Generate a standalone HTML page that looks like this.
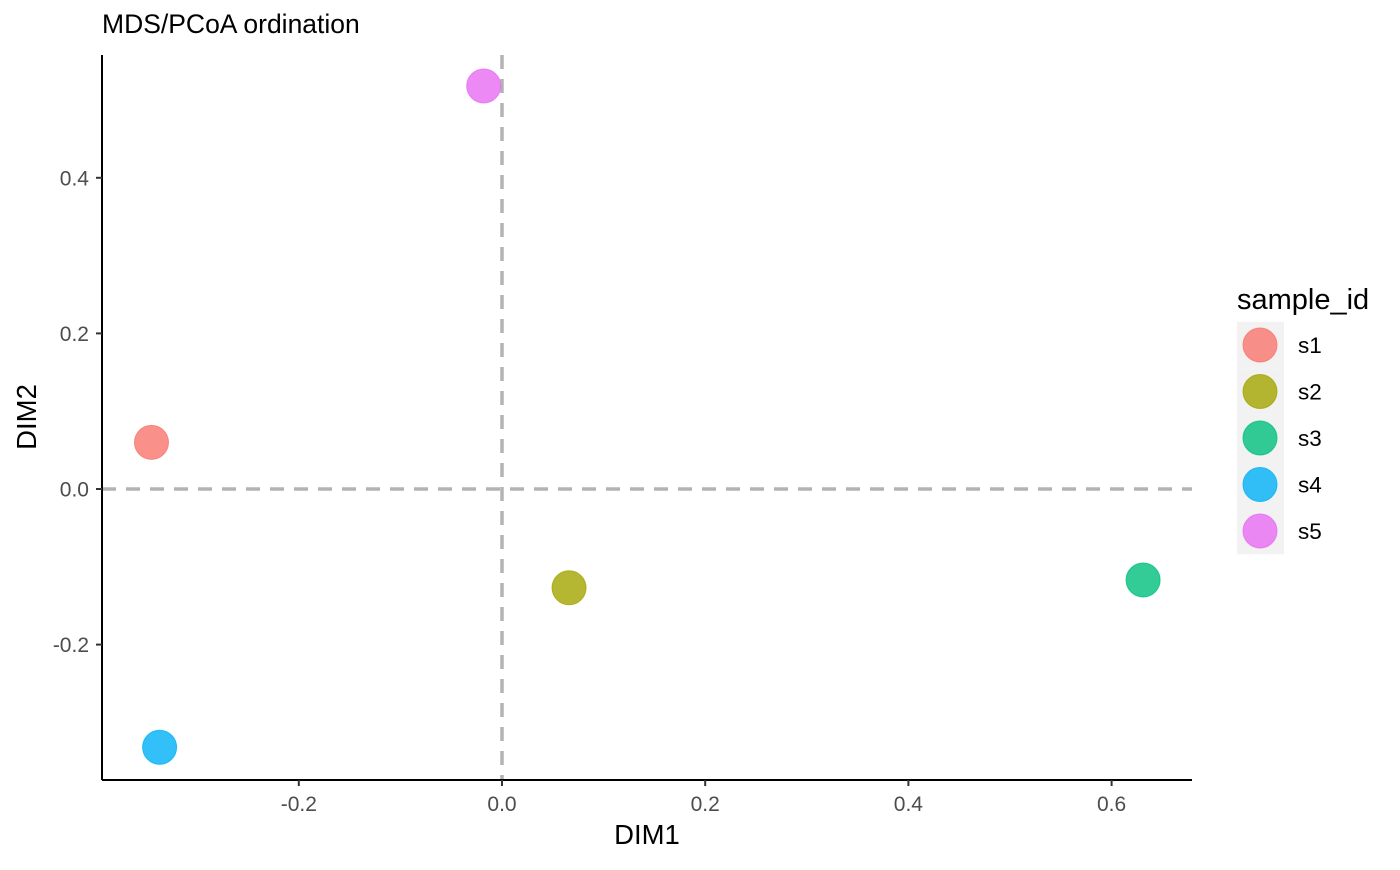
<!DOCTYPE html>
<html><head><meta charset="utf-8"><style>
body{margin:0;background:#fff;font-family:"Liberation Sans",Arial,sans-serif}
svg text{font-family:"Liberation Sans",Arial,sans-serif}
</style></head><body>
<svg id="chart" width="1400" height="865" xmlns="http://www.w3.org/2000/svg">
<g id="g"></g>
</svg>
<script>
const samples=["s1","s2","s3","s4","s5"];
const dim1=[-0.345,0.066,0.631,-0.337,-0.018];
const dim2=[0.060,-0.127,-0.117,-0.332,0.518];
const colors=["#F8766D","#A3A500","#00BF7D","#00B0F6","#E76BF3"];
const xTicks=[-0.2,0.0,0.2,0.4,0.6];
const yTicks=[-0.2,0.0,0.2,0.4];
const xLabels=["-0.2","0.0","0.2","0.4","0.6"];
const yLabels=["-0.2","0.0","0.2","0.4"];

const L=102,R=1192,T=55,B=779;
const x=v=>502+v*1016;
const y=v=>489-v*778;
const ns="http://www.w3.org/2000/svg";
const g=document.getElementById('g');
function mk(tag,attrs,txt){const e=document.createElementNS(ns,tag);for(const k in attrs)e.setAttribute(k,attrs[k]);if(txt!==undefined)e.textContent=txt;g.appendChild(e);return e;}

let e;
e=mk('line',{x1:x(0),x2:x(0),y1:T,y2:B,stroke:'#b3b3b3','stroke-width':3.5,'stroke-dasharray':'14,10'});


e=mk('line',{x1:L,x2:R,y1:y(0),y2:y(0),stroke:'#b3b3b3','stroke-width':3.5,'stroke-dasharray':'14,10'});



e=mk('line',{x1:L,x2:L,y1:T,y2:B+1,stroke:'#000','stroke-width':2});


e=mk('line',{x1:L,x2:R,y1:B+1,y2:B+1,stroke:'#000','stroke-width':2});



xTicks.forEach((t,i)=>{
  e=mk('line',{x1:x(t),x2:x(t),y1:B+1,y2:B+7,stroke:'#333','stroke-width':2});
  
  
  e=mk('text',{x:x(t),y:811,'text-anchor':'middle','font-size':21,fill:'#4d4d4d'},xLabels[i]);
  
  
});
yTicks.forEach((t,i)=>{
  e=mk('line',{x1:L-6,x2:L,y1:y(t),y2:y(t),stroke:'#333','stroke-width':2});
  
  
  e=mk('text',{x:89,y:y(t)+7.5,'text-anchor':'end','font-size':21,fill:'#4d4d4d'},yLabels[i]);
  
  
});

samples.forEach((s,i)=>{
  e=mk('circle',{cx:x(dim1[i]),cy:y(dim2[i]),r:17,fill:colors[i],'fill-opacity':0.8,stroke:colors[i],'stroke-opacity':0.8});
  
  
});

e=mk('text',{x:647,y:844,'text-anchor':'middle','font-size':27.5,fill:'#000'},'DIM1');


e=mk('text',{x:0,y:0,'text-anchor':'middle','font-size':27.5,fill:'#000',transform:'translate(36,417) rotate(-90)'},'DIM2');


e=mk('text',{x:102,y:33,'font-size':26.5,fill:'#000'},'MDS/PCoA ordination');



e=mk('text',{x:1237,y:309,'font-size':29,fill:'#000'},'sample_id');


samples.forEach((s,i)=>{
  const cy=345+i*46.5;
  e=mk('rect',{x:1237,y:cy-23.25,width:47,height:46.5,fill:'#f2f2f2'});
  
  
  e=mk('circle',{cx:1260,cy:cy,r:17,fill:colors[i],'fill-opacity':0.8,stroke:colors[i],'stroke-opacity':0.8});
  
  
  e=mk('text',{x:1298,y:cy+8,'font-size':22.5,fill:'#000'},s);
  
  
});
</script>
</body></html>
